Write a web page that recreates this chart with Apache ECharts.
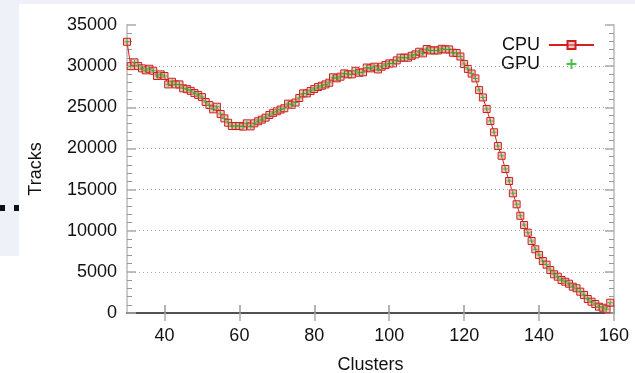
<!DOCTYPE html>
<html>
<head>
<meta charset="utf-8">
<script src="https://cdn.jsdelivr.net/npm/echarts@6/dist/echarts.min.js"></script>
<style>
  html, body { margin: 0; padding: 0; background: #eef2f8; }
  .page { position: relative; width: 635px; height: 373px; overflow: hidden; }
  .panel { position: absolute; background: #fff; }
  .dot { position: absolute; width: 5px; height: 6px; background: #111; }
  #main { position: absolute; left: 0; top: 0; width: 635px; height: 373px; }
</style>
</head>
<body>
<div class="page">
  <div class="panel" style="left:19px;top:4px;right:0;bottom:0"></div>
  <div class="panel" style="left:0;top:256px;width:19px;bottom:0"></div>
  <div class="dot" style="left:0;top:205px"></div>
  <div class="dot" style="left:14px;top:205px"></div>
  <div id="main"></div>
</div>
<script>
  const firstCluster = 30;
  // tracks found per cluster count, x = 30 .. 159
  const cpuTracks = [
    32960, 30000, 30460, 30010, 29730, 29490, 29680, 29440, 28800, 29000,
    28800, 27780, 28100, 27780, 27780, 27300, 27200, 27000, 26730, 26500,
    26240, 25640, 25270, 24750, 25070, 24180, 23650, 23120, 22720, 22720,
    22720, 22650, 23050, 22680, 23050, 23300, 23500, 23740, 24060, 24320,
    24520, 24720, 24880, 25440, 25300, 25580, 26130, 26690, 26690, 26970,
    27220, 27460, 27620, 27780, 27990, 28640, 28520, 28720, 29120, 29000,
    29000, 29440, 29200, 29250, 29830, 29730, 29930, 29600, 29930, 30130,
    30330, 30330, 30700, 31030, 31030, 31030, 31260, 31430, 31750, 31550,
    32080, 31910, 31910, 31910, 32110, 32030, 32030, 31630, 31590, 31170,
    30250, 29660, 29100, 28510, 27090, 26200, 24790, 23330, 21960, 20300,
    19110, 17500, 16040, 14540, 13210, 11820, 10690, 9760, 8750, 7740,
    7050, 6320, 5870, 5220, 4700, 4410, 4010, 3800, 3560, 3200,
    3000, 2590, 2190, 1700, 1370, 1090, 770, 640, 450, 1250
  ];
  // GPU results sit on top of the CPU ones
  const gpuTracks = cpuTracks.slice();
  const clusters = cpuTracks.map((_, i) => firstCluster + i);
  const xTicks = [40, 60, 80, 100, 120, 140, 160];
  const yGrid = [5000, 10000, 15000, 20000, 25000, 30000];

  const font = 'Liberation Sans, Arial, sans-serif';
  const plus = 'path://M2,0H3V2H5V3H3V5H2V3H0V2H2Z';
  const plain = v => String(v);
  const noSplit = {show: false};

  const chart = echarts.init(document.getElementById('main'));
  chart.setOption({
    animation: false,
    textStyle: {fontFamily: font},
    grid: {left: 127, right: 21, top: 25, bottom: 60, outerBoundsMode: 'none'},
    legend: {
      orient: 'vertical',
      right: 35,
      top: 31,
      align: 'right',
      itemWidth: 45,
      itemHeight: 10,
      itemGap: 1,
      textStyle: {fontSize: 18, color: '#111', fontFamily: font, padding: [0, 4, 0, 0]},
      data: [
        {name: 'CPU'},
        {name: 'GPU', icon: plus}
      ]
    },
    xAxis: [
      {
        type: 'value', min: 30, max: 160,
        name: 'Clusters', nameLocation: 'middle', nameGap: 43,
        nameTextStyle: {fontSize: 18, color: '#111'},
        axisLine: {lineStyle: {color: '#999', width: 1.5}},
        axisTick: {inside: true, length: 8, customValues: xTicks, lineStyle: {color: '#999', width: 1.5}},
        axisLabel: {customValues: xTicks, fontSize: 18, color: '#111', margin: 14},
        splitLine: noSplit
      },
      {
        type: 'value', min: 30, max: 160, position: 'top',
        axisLine: {lineStyle: {color: '#333', width: 1.5}},
        axisTick: {inside: true, length: 8, customValues: xTicks, lineStyle: {color: '#aaa', width: 1.5}},
        axisLabel: {show: false},
        splitLine: noSplit
      }
    ],
    yAxis: [
      {
        type: 'value', min: 0, max: 35000, interval: 5000,
        name: 'Tracks', nameLocation: 'middle', nameGap: 82,
        nameTextStyle: {fontSize: 18, color: '#111'},
        axisLine: {show: true, lineStyle: {color: '#ccc', width: 2}},
        axisTick: {show: true, inside: true, length: 9, lineStyle: {color: '#aaa', width: 1.5}},
        minorTick: {show: true, splitNumber: 5, length: 5, lineStyle: {color: '#999'}},
        axisLabel: {fontSize: 18, color: '#111', margin: 10, formatter: plain},
        splitLine: noSplit
      },
      {
        type: 'value', min: 0, max: 35000, interval: 5000, position: 'right',
        axisLine: {show: true, lineStyle: {color: '#ccc', width: 2}},
        axisTick: {show: true, inside: true, length: 9, lineStyle: {color: '#aaa', width: 1.5}},
        minorTick: {show: true, splitNumber: 5, length: 5, lineStyle: {color: '#999'}},
        axisLabel: {show: false},
        splitLine: noSplit
      }
    ],
    series: [
      {
        // dotted horizontal grid, gnuplot style
        name: 'grid',
        type: 'line',
        data: [],
        z: 1,
        markLine: {
          silent: true,
          symbol: 'none',
          label: {show: false},
          lineStyle: {color: '#aaa', type: [1, 3], width: 1},
          data: yGrid.map(v => ({yAxis: v}))
        }
      },
      {
        name: 'CPU',
        type: 'line',
        data: clusters.map((c, i) => [c, cpuTracks[i]]),
        symbol: 'rect',
        symbolSize: 7,
        showAllSymbol: true,
        lineStyle: {color: '#d42020', width: 1},
        itemStyle: {color: 'rgba(240,165,165,0.6)', borderColor: '#cc1f1f', borderWidth: 1},
        z: 2
      },
      {
        name: 'GPU',
        type: 'scatter',
        data: clusters.map((c, i) => [c, gpuTracks[i]]),
        symbol: plus,
        symbolSize: 5,
        itemStyle: {color: '#19b019'},
        z: 3
      }
    ]
  });
</script>
</body>
</html>
